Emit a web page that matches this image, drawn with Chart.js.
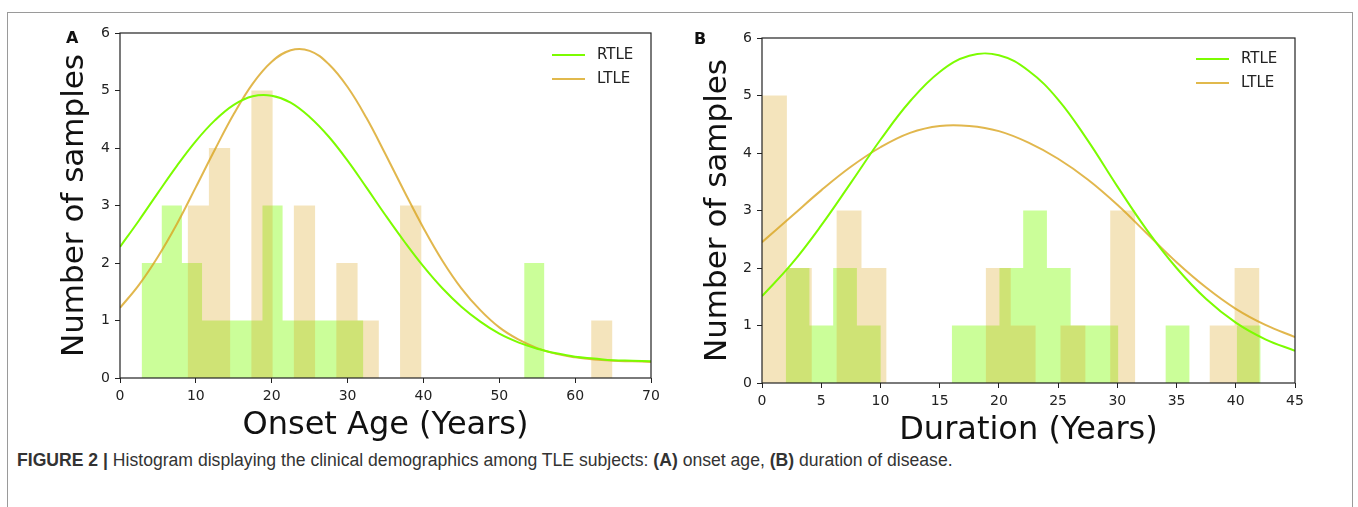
<!DOCTYPE html>
<html lang="en">
<head>
<meta charset="UTF-8">
<title>Figure 2 - TLE onset age and duration</title>
<script src="https://cdn.jsdelivr.net/npm/chart.js"></script>
<style>
  body { margin: 0; background: #fff; font-family: 'DejaVu Sans', sans-serif; }
  #page { position: relative; width: 1358px; height: 507px; overflow: hidden; }
  .frame { position: absolute; left: 7px; top: 12px; width: 1344px; height: 520px; border: 1px solid #9a9a9a; }
  canvas { position: absolute; top: 0; }
  #chartA { left: 0; }
  #chartB { left: 645px; }
  .panel { position: absolute; font-weight: bold; font-size: 16px; color: #111; }
  .legend { position: absolute; font-size: 15px; color: #222; }
  .legend .row { height: 24px; line-height: 24px; white-space: nowrap; }
  .legend .swatch { display: inline-block; width: 33px; height: 2px; vertical-align: middle; margin-right: 12px; }
  .caption { position: absolute; left: 17px; top: 450px; font-family: 'Liberation Sans', Arial, sans-serif; font-size: 17.6px; color: #333; white-space: nowrap; }
</style>
</head>
<body>
<div id="page">
  <div class="frame"></div>
  <canvas id="chartA" width="680" height="445"></canvas>
  <canvas id="chartB" width="690" height="450"></canvas>

  <div class="panel" style="left:66px; top:28px;">A</div>
  <div class="panel" style="left:694px; top:29px;">B</div>

  <div class="legend" style="left:552px; top:42px;">
    <div class="row"><span class="swatch" style="background:#7cfc00"></span>RTLE</div>
    <div class="row"><span class="swatch" style="background:#e1b94c"></span>LTLE</div>
  </div>
  <div class="legend" style="left:1196px; top:46px;">
    <div class="row"><span class="swatch" style="background:#7cfc00"></span>RTLE</div>
    <div class="row"><span class="swatch" style="background:#e1b94c"></span>LTLE</div>
  </div>

  <div class="caption"><b>FIGURE 2 |</b> Histogram displaying the clinical demographics among TLE subjects: <b>(A)</b> onset age, <b>(B)</b> duration of disease.</div>
</div>

<script>
// ---- A: onset age ----
const ageRtleStart = 2.85, ageRtleWidth = 2.655;
const ageRtleCounts = [2, 3, 2, 1, 1, 1, 3, 1, 1, 1, 1, 0, 0, 0, 0, 0, 0, 0, 0, 2];
const ageLtleStart = 8.92, ageLtleWidth = 2.80;
const ageLtleCounts = [3, 4, 0, 5, 0, 3, 0, 2, 1, 0, 3, 0, 0, 0, 0, 0, 0, 0, 0, 1];

const ageCurveX = [0, 2.5, 5, 7.5, 10, 12.5, 15, 17.5, 20, 22.5, 25, 27.5, 30, 32.5, 35, 37.5, 40, 42.5, 45, 47.5, 50, 52.5, 55, 57.5, 60, 62.5, 65, 67.5, 70];
const ageRtleCurve = [2.28, 2.74, 3.22, 3.69, 4.12, 4.48, 4.75, 4.90, 4.91, 4.79, 4.54, 4.20, 3.78, 3.31, 2.83, 2.37, 1.94, 1.56, 1.24, 0.98, 0.77, 0.62, 0.51, 0.43, 0.37, 0.34, 0.31, 0.30, 0.29];
const ageLtleCurve = [1.22, 1.62, 2.11, 2.68, 3.32, 3.97, 4.59, 5.12, 5.50, 5.70, 5.69, 5.46, 5.06, 4.52, 3.89, 3.24, 2.61, 2.04, 1.56, 1.18, 0.88, 0.67, 0.52, 0.42, 0.36, 0.32, 0.30, 0.29, 0.28];

// ---- B: duration ----
const durRtleStart = 2.0, durRtleWidth = 2.005;
const durRtleCounts = [2, 1, 2, 1, 0, 0, 0, 1, 1, 2, 3, 2, 1, 1, 0, 0, 1, 0, 0, 1];
const durLtleStart = 0, durLtleWidth = 2.1;
const durLtleCounts = [5, 2, 0, 3, 2, 0, 0, 0, 0, 2, 1, 0, 1, 0, 3, 0, 0, 0, 1, 2];

const durCurveX = [0, 2.5, 5, 7.5, 10, 12.5, 15, 17.5, 20, 22.5, 25, 27.5, 30, 32.5, 35, 37.5, 40, 42.5, 45];
const durRtleCurve = [1.51, 2.07, 2.74, 3.48, 4.23, 4.90, 5.41, 5.69, 5.70, 5.43, 4.93, 4.22, 3.42, 2.66, 2.00, 1.46, 1.05, 0.76, 0.56];
const durLtleCurve = [2.45, 2.90, 3.35, 3.76, 4.10, 4.35, 4.47, 4.47, 4.38, 4.18, 3.90, 3.54, 3.10, 2.60, 2.10, 1.66, 1.29, 1.01, 0.80];

const yTicks = [0, 1, 2, 3, 4, 5, 6];

Chart.defaults.font.family = "'DejaVu Sans', sans-serif";
Chart.defaults.color = '#222';

// histogram bins -> stepped outline points (bin left edges, then the closing edge)
function binPoints(start, width, counts) {
  const pts = counts.map((c, i) => ({ x: start + i * width, y: c }));
  pts.push({ x: start + counts.length * width, y: 0 });
  return pts;
}
function curvePoints(xs, ys) {
  return xs.map((x, i) => ({ x: x, y: ys[i] }));
}

// matplotlib style box around the plot
const boxPlugin = {
  id: 'box',
  afterDatasetsDraw(chart) {
    const a = chart.chartArea, ctx = chart.ctx;
    ctx.save();
    ctx.strokeStyle = '#222';
    ctx.lineWidth = 1.2;
    ctx.strokeRect(a.left, a.top, a.right - a.left, a.bottom - a.top);
    ctx.restore();
  }
};

function drawPanel(id, o) {
  new Chart(document.getElementById(id), {
    type: 'line',
    data: {
      datasets: [
        { label: 'RTLE', data: curvePoints(o.curveX, o.rtleCurve), borderColor: '#7cfc00', borderWidth: 2,
          pointRadius: 0, tension: 0.4, fill: false },
        { label: 'LTLE', data: curvePoints(o.curveX, o.ltleCurve), borderColor: 'rgba(218,165,32,0.8)', borderWidth: 2,
          pointRadius: 0, tension: 0.4, fill: false },
        { label: 'LTLE hist', data: binPoints(o.ltleStart, o.ltleWidth, o.ltleCounts), stepped: 'before',
          borderWidth: 0, borderColor: 'rgba(0,0,0,0)', pointRadius: 0, fill: 'origin', backgroundColor: 'rgba(218,165,32,0.3)' },
        { label: 'RTLE hist', data: binPoints(o.rtleStart, o.rtleWidth, o.rtleCounts), stepped: 'before',
          borderWidth: 0, borderColor: 'rgba(0,0,0,0)', pointRadius: 0, fill: 'origin', backgroundColor: 'rgba(124,252,0,0.4)' }
      ]
    },
    options: {
      responsive: false,
      animation: false,
      devicePixelRatio: 1,
      layout: { padding: { top: o.top, right: o.right, left: 0, bottom: 0 } },
      plugins: { legend: { display: false }, tooltip: { enabled: false } },
      scales: {
        x: {
          type: 'linear', min: 0, max: o.xMax,
          afterFit: s => { s.height = o.xAxisH; },
          ticks: { stepSize: o.xStep, font: { size: 14 }, padding: 5, color: '#222', maxRotation: 0 },
          grid: { drawOnChartArea: false, drawTicks: true, tickLength: 5, color: '#222' },
          border: { display: false },
          title: { display: true, text: o.xTitle, font: { size: 32, lineHeight: 1 }, color: '#111', padding: { top: 0, bottom: 3 } }
        },
        y: {
          min: 0, max: 6,
          afterFit: s => { s.width = o.yAxisW; },
          afterBuildTicks: s => { s.ticks = yTicks.map(v => ({ value: v })); },
          ticks: { font: { size: 14 }, padding: 5, color: '#222' },
          grid: { drawOnChartArea: false, drawTicks: true, tickLength: 5, color: '#222' },
          border: { display: false },
          title: { display: true, text: 'Number of samples', font: { size: 31, lineHeight: 1 }, color: '#111', padding: { top: o.yTitlePad, bottom: 0 } }
        }
      }
    },
    plugins: [boxPlugin]
  });
}

drawPanel('chartA', {
  rtleStart: ageRtleStart, rtleWidth: ageRtleWidth, rtleCounts: ageRtleCounts,
  ltleStart: ageLtleStart, ltleWidth: ageLtleWidth, ltleCounts: ageLtleCounts,
  curveX: ageCurveX, rtleCurve: ageRtleCurve, ltleCurve: ageLtleCurve,
  xMax: 70, xStep: 10, xTitle: 'Onset Age (Years)',
  top: 33, right: 29, xAxisH: 67, yAxisW: 120, yTitlePad: 59.5
});

drawPanel('chartB', {
  rtleStart: durRtleStart, rtleWidth: durRtleWidth, rtleCounts: durRtleCounts,
  ltleStart: durLtleStart, ltleWidth: durLtleWidth, ltleCounts: durLtleCounts,
  curveX: durCurveX, rtleCurve: durRtleCurve, ltleCurve: durLtleCurve,
  xMax: 45, xStep: 5, xTitle: 'Duration (Years)',
  top: 38, right: 40, xAxisH: 67, yAxisW: 117, yTitlePad: 57.5
});
</script>
</body>
</html>
